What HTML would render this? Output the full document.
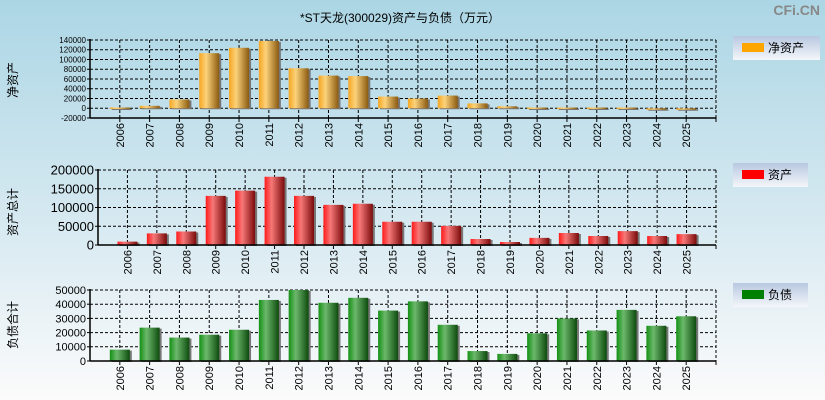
<!DOCTYPE html>
<html><head><meta charset="utf-8">
<style>
html,body{margin:0;padding:0;}
body{width:825px;height:400px;overflow:hidden;background:linear-gradient(#acd6e5,#d6e9f1 55%,#fbfbfb);font-family:"Liberation Sans","Noto Sans CJK SC",sans-serif;}
svg{display:block;}
</style></head>
<body>
<svg id="c" width="825" height="400" xmlns="http://www.w3.org/2000/svg">
<defs>
<linearGradient id="gO" x1="0" x2="1" y1="0" y2="0"><stop offset="0" stop-color="#f5a623"/><stop offset="0.35" stop-color="#fcd27a"/><stop offset="1" stop-color="#8a5a10"/></linearGradient>
<linearGradient id="gR" x1="0" x2="1" y1="0" y2="0"><stop offset="0" stop-color="#ff1a1a"/><stop offset="0.35" stop-color="#f77878"/><stop offset="1" stop-color="#7a0a0a"/></linearGradient>
<linearGradient id="gG" x1="0" x2="1" y1="0" y2="0"><stop offset="0" stop-color="#139013"/><stop offset="0.35" stop-color="#6cb86c"/><stop offset="1" stop-color="#0d4a0d"/></linearGradient>
<linearGradient id="gL" x1="0" x2="0" y1="0" y2="1"><stop offset="0" stop-color="#b8c8e0"/><stop offset="1" stop-color="#f4f6fa"/></linearGradient>
</defs>
<text x="400" y="22" font-size="12" text-anchor="middle" fill="#000">*ST天龙(300029)资产与负债（万元）</text>
<text x="820" y="15" font-size="14" font-weight="bold" text-anchor="end" fill="#888">CFi.CN</text>
</svg>
<script>
const years = ["2006","2007","2008","2009","2010","2011","2012","2013","2014","2015","2016","2017","2018","2019","2020","2021","2022","2023","2024","2025"];
const netAssets = [1500,5000,18000,113000,124000,138000,82000,67000,66000,24000,20000,26000,10000,4000,1500,1500,1500,1500,-2000,-1500];
const totalAssets = [9000,31000,36000,131000,145000,182000,131000,107000,110000,62000,62000,51000,16000,8000,19000,32000,24000,37000,24000,29000];
const liabilities = [8000,23500,16500,18500,22000,43000,50000,41000,44500,35500,42000,25500,7000,5000,19500,30000,21500,36000,24800,31500];
const netTicks = [-20000,0,20000,40000,60000,80000,100000,120000,140000];
const assetTicks = [0,50000,100000,150000,200000];
const liabTicks = [0,10000,20000,30000,40000,50000];

const svg = document.getElementById('c');
const NS = 'http://www.w3.org/2000/svg';
function mk(tag, attrs, parent){const e=document.createElementNS(NS,tag);for(const k in attrs)e.setAttribute(k,attrs[k]);(parent||svg).appendChild(e);return e;}

function panel(cfg){
  const g = mk('g',{});
  
  
  const {x0,x1,y0,y1,min,max,ticks,values,fill,fs} = cfg;
  const ys = v => y1 - (v-min)/(max-min)*(y1-y0);
  const band = (x1-x0)/21;
  const xs = i => x0 + band*(i+1);
  // horizontal grid
  ticks.forEach(t=>{
    const y = ys(t);
    if (t!==min) { const l = mk('line',{x1:x0,x2:x1,y1:y,y2:y,stroke:'#000','stroke-dasharray':'3,2','stroke-width':1},g);
        }
    const tx = mk('text',{x:x0-4,y:y+fs*0.35,'font-size':fs,'text-anchor':'end',fill:'#000'},g);
     
    tx.textContent = String(t);
    mk('line',{x1:x0-3,x2:x0,y1:y,y2:y,stroke:'#000'},g);
  });
  // vertical grid
  years.forEach((yr,i)=>{
    const x = xs(i);
    const l = mk('line',{x1:x,x2:x,y1:y0,y2:y1,stroke:'#000','stroke-dasharray':'3,2'},g);
     
    mk('line',{x1:x,x2:x,y1:y1,y2:y1+4,stroke:'#000'},g);
  });
  const rl = mk('line',{x1:x1,x2:x1,y1:y0,y2:y1,stroke:'#000','stroke-dasharray':'3,2'},g);
  mk('line',{x1:x1,x2:x1,y1:y1,y2:y1+4,stroke:'#000'},g);
  // bars
  const bw = 20, base = ys(0);
  values.forEach((v,i)=>{
    const x = xs(i)-bw/2;
    const top = Math.min(ys(v),base), h = Math.max(Math.abs(ys(v)-base),1.5);
    mk('rect',{x:x+2,y:top+1,width:bw,height:h,fill:'#777'},g);
    const r = mk('rect',{x:x,y:top,width:bw,height:h,fill:fill},g);
    
    
  });
  // axes
  mk('line',{x1:x0,x2:x0,y1:y0-1,y2:y1,stroke:'#000','stroke-width':1.5},g);
  mk('line',{x1:x0,x2:x1,y1:y1,y2:y1,stroke:'#000','stroke-width':1.5},g);
  // x labels
  years.forEach((yr,i)=>{
    const x = xs(i)+4, y = y1+5;
    const t = mk('text',{x:0,y:0,'font-size':11,'text-anchor':'end',fill:'#000',transform:`translate(${x},${y}) rotate(-90)`},g);
    
    
    t.textContent = yr;
  });
  // y title
  const yt = mk('text',{x:0,y:0,'font-size':12,'text-anchor':'middle',fill:'#000',transform:`translate(17,${cfg.titleY}) rotate(-90)`},g);
  
  
  yt.textContent = cfg.title;
  // legend
  const lg = mk('g',{},g);
  
  
  mk('rect',{x:733,y:cfg.legY,width:cfg.legW,height:24,fill:'url(#gL)'},lg);
  mk('rect',{x:742,y:cfg.legY+7,width:22,height:9,fill:cfg.legColor},lg);
  const lt = mk('text',{x:768,y:cfg.legY+16,'font-size':12,fill:'#000'},lg);
  lt.textContent = cfg.legText;
}

panel({name:'net-assets-panel',x0:90,x1:716,y0:40,y1:118,min:-20000,max:140000,ticks:netTicks,values:netAssets,fill:'url(#gO)',fs:8,title:'净资产',titleY:80,legY:36,legW:87,legColor:'#ffa500',legText:'净资产'});
panel({name:'total-assets-panel',x0:98,x1:716,y0:170,y1:245,min:0,max:200000,ticks:assetTicks,values:totalAssets,fill:'url(#gR)',fs:13,title:'资产总计',titleY:212,legY:163,legW:75,legColor:'#ff0000',legText:'资产'});
panel({name:'liabilities-panel',x0:90,x1:716,y0:290,y1:361,min:0,max:50000,ticks:liabTicks,values:liabilities,fill:'url(#gG)',fs:11,title:'负债合计',titleY:325,legY:283,legW:75,legColor:'#008000',legText:'负债'});
</script>
</body></html>
